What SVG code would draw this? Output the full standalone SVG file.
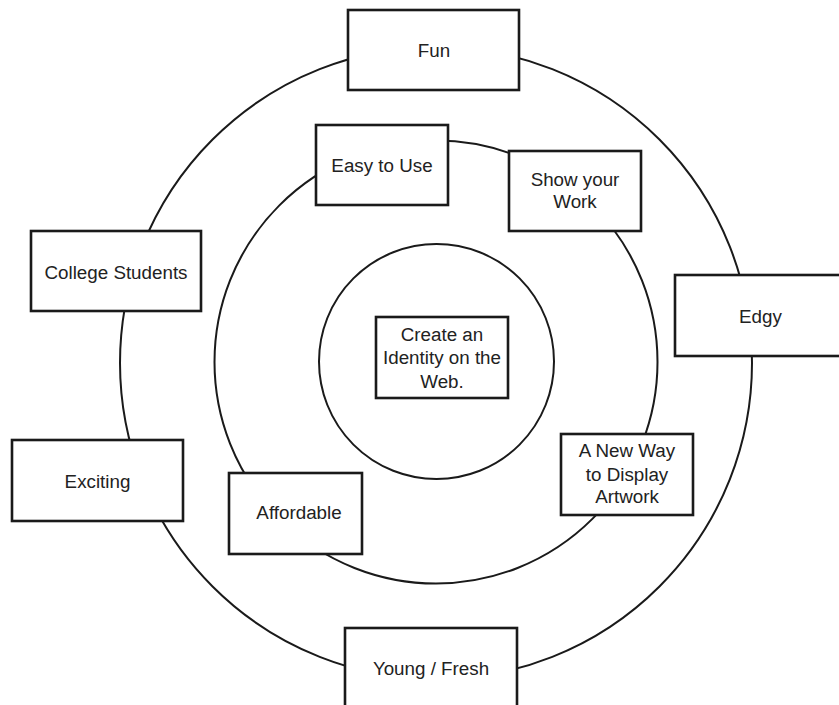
<svg xmlns="http://www.w3.org/2000/svg" width="839" height="705" viewBox="0 0 839 705">
  <style>
    .ring { fill: none; stroke: #1a1a1a; stroke-width: 2; }
    .box { fill: #ffffff; stroke: #1a1a1a; stroke-width: 2.6; }
    .lbl { font-family: "Liberation Sans", Arial, sans-serif; font-size: 18.8px; fill: #222222; text-anchor: middle; }
  </style>
  <rect width="839" height="705" fill="#ffffff"/>

  <!-- concentric rings -->
  <g id="connectors">
    <circle class="ring" cx="436" cy="363" r="316"/>
    <circle class="ring" cx="436" cy="362" r="221.5"/>
    <circle class="ring" cx="436.5" cy="361.5" r="117.5"/>
  </g>

  <!-- centre -->
  <g id="identity">
    <rect class="box" x="376" y="317" width="132" height="81"/>
    <text class="lbl" x="442" y="341">Create an</text>
    <text class="lbl" x="442" y="364">Identity on the</text>
    <text class="lbl" x="442" y="388">Web.</text>
  </g>

  <!-- middle ring -->
  <g id="easy">
    <rect class="box" x="316" y="125" width="132" height="80"/>
    <text class="lbl" x="382" y="172">Easy to Use</text>
  </g>
  <g id="show">
    <rect class="box" x="509" y="151" width="132" height="80"/>
    <text class="lbl" x="575" y="186">Show your</text>
    <text class="lbl" x="575" y="208">Work</text>
  </g>
  <g id="newway">
    <rect class="box" x="561" y="434" width="132" height="81"/>
    <text class="lbl" x="627" y="457">A New Way</text>
    <text class="lbl" x="627" y="481">to Display</text>
    <text class="lbl" x="627" y="503">Artwork</text>
  </g>
  <g id="affordable">
    <rect class="box" x="229" y="473" width="133" height="81"/>
    <text class="lbl" x="299" y="519">Affordable</text>
  </g>

  <!-- outer ring -->
  <g id="fun">
    <rect class="box" x="348" y="10" width="171" height="80"/>
    <text class="lbl" x="434" y="57">Fun</text>
  </g>
  <g id="edgy">
    <rect class="box" x="675" y="275" width="172" height="81"/>
    <text class="lbl" x="760.5" y="323">Edgy</text>
  </g>
  <g id="college">
    <rect class="box" x="31" y="231" width="170" height="80"/>
    <text class="lbl" x="116" y="279">College Students</text>
  </g>
  <g id="exciting">
    <rect class="box" x="12" y="440" width="171" height="81"/>
    <text class="lbl" x="97.5" y="488">Exciting</text>
  </g>
  <g id="young">
    <rect class="box" x="345" y="628" width="172" height="90"/>
    <text class="lbl" x="431" y="675">Young / Fresh</text>
  </g>
</svg>
